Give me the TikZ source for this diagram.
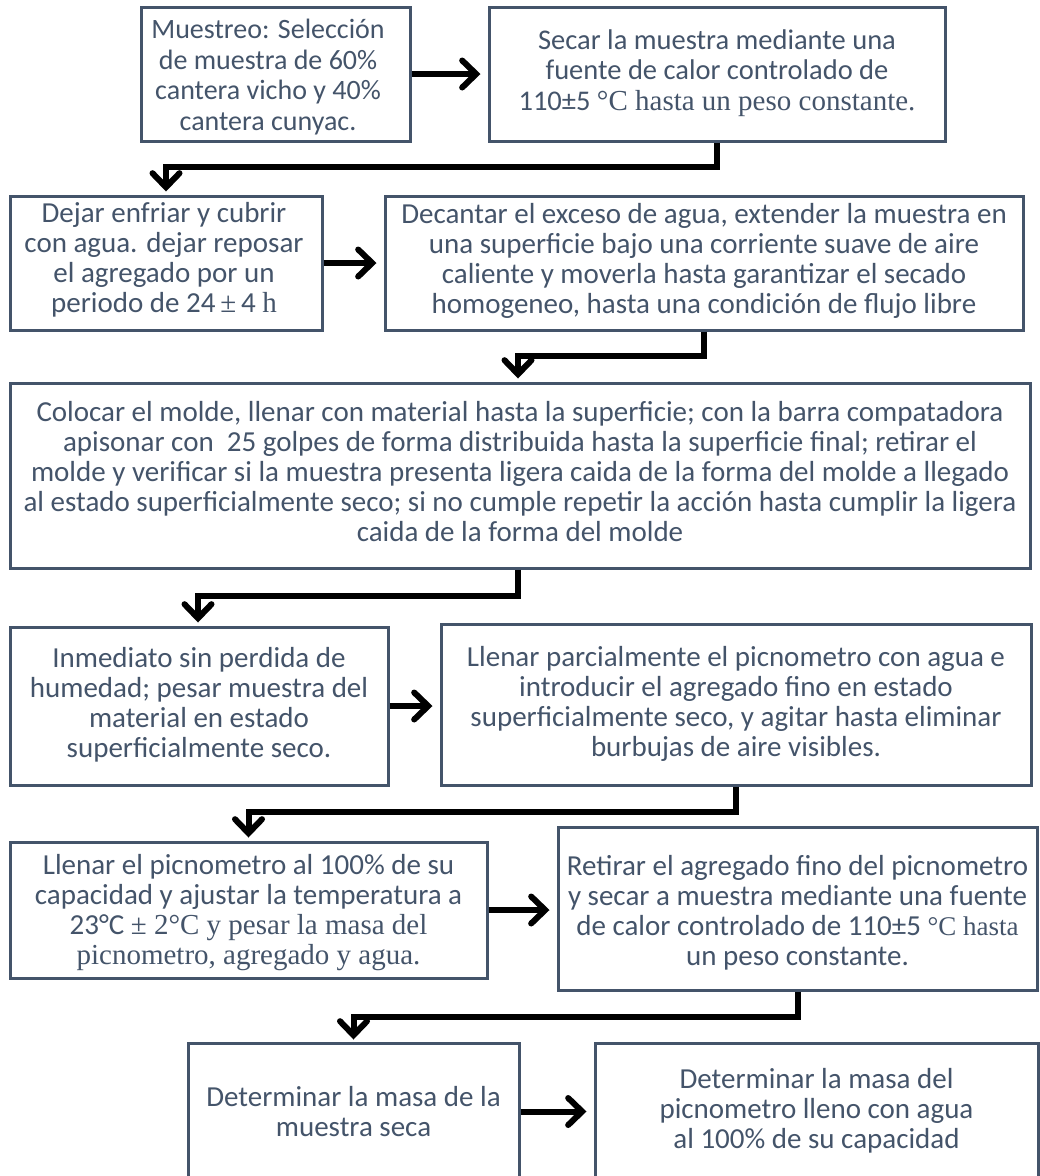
\documentclass[tikz,border=0pt]{standalone}
\usepackage{fontspec}
\setmainfont{Carlito}
\newfontfamily\serif{Liberation Serif}
\usetikzlibrary{arrows.meta}
\definecolor{slate}{HTML}{44546A}
% serif runs set inside the sans text
\newcommand\sr[1]{{\serif\fontsize{29}{30}\selectfont #1}}
\newcommand\srs[1]{{\serif\fontsize{27}{30}\selectfont #1}}
\begin{document}
\begin{tikzpicture}[x=1pt,y=-1pt,
  box/.style={draw=slate, line width=3pt, inner sep=0pt},
  txt/.style={text=slate, align=center, inner sep=0pt,
    font=\fontsize{29}{30}\selectfont},
  flow/.style={draw=black, line width=6pt, line join=miter,
    -{Straight Barb[length=14pt, width=27pt, line cap=round]}}]
\clip (0,0) rectangle (1040,1176);
\fill[white] (0,0) rectangle (1040,1176);

% process boxes
\node[box, minimum width=269pt, minimum height=134pt] (a) at (275.5,74) {};
\node[box, minimum width=456pt, minimum height=134pt] (b) at (717,74) {};
\node[box, minimum width=312pt, minimum height=134pt] (c) at (166,263) {};
\node[box, minimum width=638pt, minimum height=134pt] (d) at (704,263) {};
\node[box, minimum width=1020pt, minimum height=185pt] (e) at (520,475.5) {};
\node[box, minimum width=378pt, minimum height=158pt] (f) at (199,706) {};
\node[box, minimum width=590pt, minimum height=161pt] (g) at (736,704.5) {};
\node[box, minimum width=477pt, minimum height=136pt] (h) at (248.5,910) {};
\node[box, minimum width=479pt, minimum height=163pt] (i) at (797.5,908.5) {};
\node[box, minimum width=331pt, minimum height=137pt] (j) at (353.5,1111.5) {};
\node[box, minimum width=443pt, minimum height=137pt] (k) at (816.5,1111.5) {};

% box texts
\node[txt, font=\fontsize{28}{30.5}\selectfont] (at) at (268,77) {Muestreo: Selección\\de muestra de 60\%\\cantera vicho y 40\%\\cantera cunyac.};
\node[txt, font=\fontsize{28.5}{30.5}\selectfont] (bt) at (717,73) {Secar la muestra mediante una\\fuente de calor controlado de\\110±5 \sr{°C hasta un peso constante.}};
\node[txt] (ct) at (164,260) {Dejar enfriar y cubrir\\con agua. dejar reposar\\el agregado por un\\periodo de 24\,\sr{±}\,4 \sr{h}};
\node[txt] (dt) at (704,261) {Decantar el exceso de agua, extender la muestra en\\una superficie bajo una corriente suave de aire\\caliente y moverla hasta garantizar el secado\\homogeneo, hasta una condición de flujo libre};
\node[txt] (et) at (520,472) {Colocar el molde, llenar con material hasta la superficie; con la barra compatadora\\apisonar con \ 25 golpes de forma distribuida hasta la superficie final; retirar el\\molde y verificar si la muestra presenta ligera caida de la forma del molde a llegado\\al estado superficialmente seco; si no cumple repetir la acción hasta cumplir la ligera\\caida de la forma del molde};
\node[txt] (ft) at (199,705) {Inmediato sin perdida de\\humedad; pesar muestra del\\material en estado\\superficialmente seco.};
\node[txt] (gt) at (736,704) {Llenar parcialmente el picnometro con agua e\\introducir el agregado fino en estado\\superficialmente seco, y agitar hasta eliminar\\burbujas de aire visibles.};
\node[txt] (ht) at (248.5,913) {Llenar el picnometro al 100\% de su\\capacidad y ajustar la temperatura a\\23°C \sr{± 2°C y pesar la masa del}\\\sr{picnometro, agregado y agua.}};
\node[txt] (it) at (797.5,913) {Retirar el agregado fino del picnometro\\y secar a muestra mediante una fuente\\de calor controlado de 110±5 \srs{°C hasta}\\un peso constante.};
\node[txt] (jt) at (353.5,1112) {Determinar la masa de la\\muestra seca};
\node[txt] (kt) at (816.5,1111) {Determinar la masa del\\picnometro lleno con agua\\al 100\% de su capacidad};

% connectors
\draw[flow, shorten >=7pt] (a.east) -- (b.west);
\draw[flow] (b.south) |- ([yshift=28pt]c.north) -- ([yshift=3pt]c.north);
\draw[flow, shorten >=7pt] (c.east) -- (d.west);
\draw[flow] (d.south) |- ([xshift=-2pt, yshift=26pt]e.north) -- ([xshift=-2pt, yshift=3pt]e.north);
\draw[flow] ([xshift=-2pt]e.south) |- ([xshift=-1pt, yshift=30pt]f.north) -- ([xshift=-1pt, yshift=3pt]f.north);
\draw[flow, shorten >=7pt] (f.east) -- (f.east -| g.west);
\draw[flow] (g.south) |- ([yshift=29pt]h.north) -- ([yshift=3pt]h.north);
\draw[flow, shorten >=7pt] (h.east) -- (h.east -| i.west);
\draw[flow] (i.south) |- ([yshift=25pt]j.north) -- ([yshift=2pt]j.north);
\draw[flow, shorten >=7pt] (j.east) -- (j.east -| k.west);
\end{tikzpicture}
\end{document}
